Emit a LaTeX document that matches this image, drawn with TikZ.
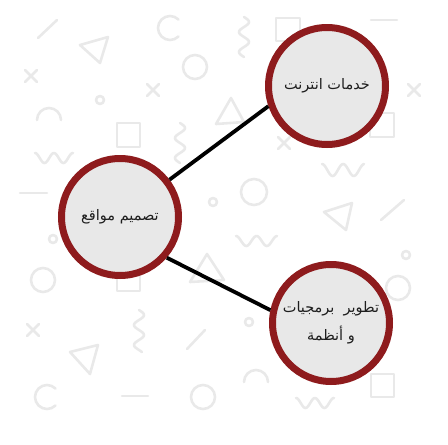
\documentclass[tikz,border=0pt]{standalone}
\usepackage{fontspec}
\newfontfamily\arabicfont[Script=Arabic]{DejaVu Sans}
\TeXXeTstate=1
\usetikzlibrary{shadows}
\definecolor{ringred}{HTML}{8E1B1D}
\definecolor{discfill}{HTML}{E8E8E8}
\definecolor{bgshape}{HTML}{E9E9E9}
\definecolor{txtdark}{HTML}{1E1E1E}
\tikzset{
  bgs/.style={draw=bgshape, line width=2.6pt, line cap=round, line join=round},
  disc/.style={circle, draw=ringred, fill=discfill, line width=7pt, minimum size=117pt,
    inner sep=0pt, font=\arabicfont\fontsize{14.5}{16}\selectfont, text=txtdark, align=center,
    drop shadow={opacity=0.25, shadow xshift=0.8pt, shadow yshift=-0.8pt}},
  link/.style={draw=black, line width=3.8pt}
}
\begin{document}
\begin{tikzpicture}[x=1pt,y=1pt,yscale=-1]
\useasboundingbox (0,0) rectangle (448,445);
% background decoration
\begin{scope}[bgs]
  % lines
  \draw (57,20) -- (38,38);
  \draw (20,193) -- (47,193);
  \draw (371,20) -- (397,20);
  \draw (381,220) -- (404,200);
  \draw (187,349) -- (205,330);
  \draw (122,396) -- (148,396);
  % triangles
  \draw (80,45) -- (108,37) -- (100,63) -- cycle;
  \draw (216,124) -- (231,98) -- (244,122) -- cycle;
  \draw (324,212) -- (352,203) -- (346,230) -- cycle;
  \draw (190,282) -- (207,254) -- (224,280) -- cycle;
  \draw (70,352) -- (98,345) -- (90,374) -- cycle;
  % circles
  \draw (195,67) circle[radius=12];
  \draw (43,280) circle[radius=12];
  \draw (254,192) circle[radius=13];
  \draw (203,397) circle[radius=12];
  \draw (398,288) circle[radius=12];
  % small circles
  \draw (100,100) circle[radius=4];
  \draw (213,202) circle[radius=4];
  \draw (53,239) circle[radius=4];
  \draw (406,255) circle[radius=4];
  \draw (249,322) circle[radius=4];
  % crosses
  \foreach \p in {(31,76),(153,90),(414,90),(284,143),(33,330)}{
    \draw \p ++(-6,-6) -- ++(12,12);
    \draw \p ++(-6,6) -- ++(12,-12);
  }
  % arcs
  \draw (170,28) ++(45:12) arc[start angle=45, end angle=315, radius=12];
  \draw (47,397) ++(45:12) arc[start angle=45, end angle=315, radius=12];
  \draw (49,120) ++(180:12) arc[start angle=180, end angle=360, radius=12];
  \draw (256,382) ++(180:12) arc[start angle=180, end angle=360, radius=12];
  % squares
  \draw (117,123) rectangle (140,147);
  \draw (276,18) rectangle (300,41);
  \draw (370,113) rectangle (394,137);
  \draw (117,268) rectangle (140,291);
  \draw (371,374) rectangle (394,397);
  % vertical squiggles
  \draw plot[domain=0:40, samples=40, smooth] ({180+5*sin(\x*18)},{123+\x});
  \draw plot[domain=0:40, samples=40, smooth] ({244+5*sin(\x*18)},{17+\x});
  \draw plot[domain=0:42, samples=40, smooth] ({139+5*sin(\x*18)},{310+\x});
  % horizontal waves
  \draw plot[domain=0:38, samples=40, smooth] ({35+\x},{158-5*cos(\x*19)});
  \draw plot[domain=0:42, samples=40, smooth] ({322+\x},{170-6*cos(\x*17)});
  \draw plot[domain=0:41, samples=40, smooth] ({236+\x},{241-5*cos(\x*17.5)});
  \draw plot[domain=0:38, samples=40, smooth] ({296+\x},{403-5*cos(\x*19)});
\end{scope}
% main nodes
\node[disc] (web) at (120,217) {\beginR تصميم مواقع\endR};
\node[disc] (net) at (327,86) {\beginR خدمات انترنت\endR};
\node[disc] (soft) at (331,323) {\beginR تطوير\ \ برمجيات\endR\\[9pt]\beginR و أنظمة\endR};
% connectors
\draw[link] (web.37) -- (net.199);
\draw[link] (web.319) -- (soft.168);
\end{tikzpicture}
\end{document}
